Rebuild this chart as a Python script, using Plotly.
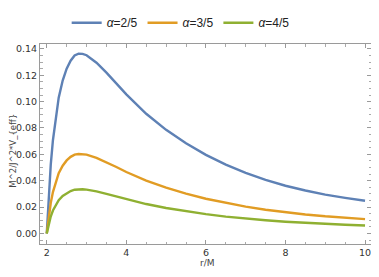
import plotly.graph_objects as go

# values
r = [2.0, 2.05, 2.1, 2.155, 2.2, 2.3, 2.4, 2.5, 2.6, 2.7, 2.8, 2.9, 3.0, 3.25, 3.5,
     3.75, 4.0, 4.5, 5.0, 5.5, 6.0, 6.5, 7.0, 7.5, 8.0, 8.5, 9.0, 9.5, 10.0]
v_25 = [0.0, 0.032, 0.052, 0.0707, 0.082, 0.103, 0.116, 0.125, 0.131, 0.135, 0.1364,
        0.1362, 0.1352, 0.1295, 0.122, 0.114, 0.1055, 0.0908, 0.0786, 0.0684, 0.0596,
        0.0522, 0.0460, 0.0407, 0.0362, 0.0326, 0.0295, 0.0270, 0.0248]
v_35 = [0.0, 0.0142, 0.0231, 0.0314, 0.0364, 0.0457, 0.0514, 0.0554, 0.0581, 0.0598,
        0.0603, 0.0602, 0.0598, 0.0573, 0.0540, 0.0504, 0.0466, 0.0401, 0.0347,
        0.0302, 0.0263, 0.0231, 0.0203, 0.0180, 0.0160, 0.0144, 0.0130, 0.0119, 0.0109]
v_45 = [0.0, 0.0079, 0.0128, 0.0174, 0.0202, 0.0253, 0.0285, 0.0307, 0.0322, 0.0332,
        0.0335, 0.0335, 0.0332, 0.0319, 0.0300, 0.0281, 0.0260, 0.0223, 0.0193,
        0.0168, 0.0147, 0.0128, 0.0113, 0.0100, 0.0089, 0.0080, 0.0073, 0.0066, 0.0060]

names = ["<i>α</i>=2/5", "<i>α</i>=3/5", "<i>α</i>=4/5"]
colors = ["#5E81B5", "#E19C24", "#8FB032"]

fig = go.Figure()
for ys, nm, c in zip([v_25, v_35, v_45], names, colors):
    fig.add_trace(go.Scatter(x=r, y=ys, mode="lines", name=nm,
                             line=dict(color=c, width=2.4)))

axis_common = dict(showgrid=False, zeroline=False, showline=True, linecolor="#9a9a9a",
                   linewidth=1, mirror="allticks", ticks="inside", ticklen=4,
                   tickcolor="#9a9a9a", tickfont=dict(size=9.5, color="#333"),
                   automargin=False, ticklabeloverflow="allow")

fig.update_xaxes(range=[1.83, 10.15], tickvals=[2, 4, 6, 8, 10],
                 minor=dict(dtick=0.5, ticks="inside", ticklen=2.5, tickcolor="#aaa"),
                 **axis_common)
fig.update_yaxes(range=[-0.008, 0.1437], tickvals=[0, 0.02, 0.04, 0.06, 0.08, 0.10, 0.12, 0.14],
                 tickformat=".2f",
                 minor=dict(dtick=0.005, ticks="inside", ticklen=2.5, tickcolor="#aaa"),
                 **axis_common)

# axis titles as annotations so they sit where the reference has them
fig.add_annotation(text="r/M", xref="paper", yref="paper", x=0.505, y=-0.096,
                   xanchor="center", yanchor="middle", showarrow=False,
                   font=dict(size=9, color="#444"))
fig.add_annotation(text="M^2/J^2*V_{eff}", xref="paper", yref="paper", x=-0.082, y=0.466,
                   xanchor="center", yanchor="middle", textangle=-90, showarrow=False,
                   font=dict(size=8.5, color="#444"))

# the page body adds an 8px offset on each side, so the figure is made smaller
fig.update_layout(
    width=363, height=261,
    margin=dict(l=32, r=0, t=28, b=25),
    paper_bgcolor="white", plot_bgcolor="white",
    font=dict(family="DejaVu Sans"),
    legend=dict(orientation="h", x=0.425, xanchor="center", y=1.106, yanchor="middle",
                font=dict(size=12, color="#222", family="Liberation Sans"),
                itemwidth=30, tracegroupgap=0),
)

fig.write_html("out.html")
